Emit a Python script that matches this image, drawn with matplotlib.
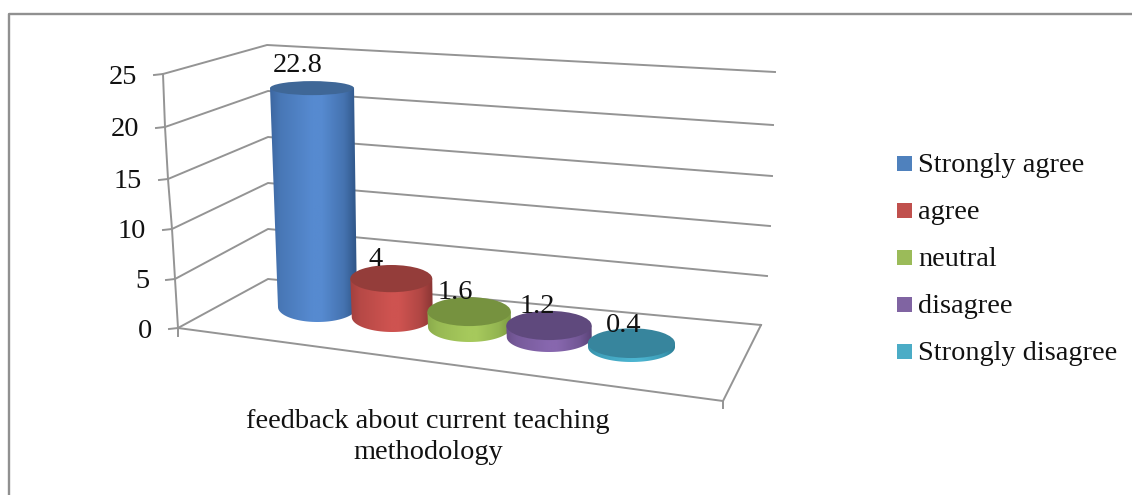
import numpy as np
import matplotlib
matplotlib.use("Agg")
import matplotlib.pyplot as plt
from matplotlib.patches import Ellipse, PathPatch, Rectangle
from matplotlib.path import Path
from matplotlib.colors import LinearSegmentedColormap, to_rgb

# Survey responses
categories = ["Strongly agree", "agree", "neutral", "disagree", "Strongly disagree"]
values = [22.8, 4, 1.6, 1.2, 0.4]
value_labels = ["22.8", "4", "1.6", "1.2", "0.4"]
axis_ticks = [0, 5, 10, 15, 20, 25]
axis_title = "feedback about current teaching\nmethodology"

# Cylinder colours: edge of body, centre of body, top cap, legend swatch
edge_cols = ["#2F5587", "#8A3634", "#7B9A42", "#5A4377", "#2A7C93"]
mid_cols = ["#568AD0", "#CE5350", "#A6C95C", "#8767AE", "#4BB4D0"]
cap_cols = ["#3F6797", "#943D3A", "#76923F", "#5F497D", "#37859D"]
swatch_cols = ["#4F81BD", "#C0504D", "#9BBB59", "#8064A2", "#4BACC6"]

GRID = "#949494"
TEXT = "#111111"
FONT = ["Liberation Serif", "DejaVu Serif"]
SIZE = 20.4
W, H = 1132, 495

# Wall corners of the 3D box, one entry per axis tick
front_x = [178, 175, 172, 168, 165, 163]
front_y = [328, 279, 229, 179, 127, 74]
back_left_x = [268, 268, 268, 268, 268, 267]
back_left_y = [279, 229, 183, 137, 91, 45]
back_right_x = [761, 767, 770, 772, 773, 775]
back_right_y = [325, 276, 226, 176, 125, 72]

# Value label offsets from the centre of each cylinder's top cap
label_dx = [-14, -16, -14, -12, -8]
label_dy = [-23, -19, -19, -19, -18]

fig = plt.figure(figsize=(W / 100, H / 100), dpi=100)
ax = fig.add_axes([0, 0, 1, 1])
ax.axis("off")

# Outer chart border, running off the right and bottom of the canvas
ax.plot([9, 9, W], [H, 14, 14], color="#909090", lw=1.7, solid_capstyle="butt", zorder=1)

# Walls, floor and tick marks
for i, tick in enumerate(axis_ticks):
    ax.plot([front_x[i], back_left_x[i], back_right_x[i]],
            [front_y[i], back_left_y[i], back_right_y[i]],
            color=GRID, lw=1.4, zorder=1)
    ax.plot([front_x[i] - 9, front_x[i]], [front_y[i] + 1, front_y[i]], color=GRID, lw=1.4, zorder=1)
    ax.text(front_x[i] - 26, front_y[i] + 3, str(tick), ha="right", va="center",
            fontsize=SIZE, family=FONT, color=TEXT, zorder=5)
ax.plot(front_x, front_y, color=GRID, lw=1.4, zorder=1)
ax.plot([178, 723, 761], [328, 401, 325], color=GRID, lw=1.4, zorder=1)
ax.plot([178, 178], [328, 336], color=GRID, lw=1.4, zorder=1)
ax.plot([723, 723], [401, 408], color=GRID, lw=1.4, zorder=1)


def blend(a, b, t):
    a, b = np.array(to_rgb(a)), np.array(to_rgb(b))
    return tuple(a + (b - a) * t)


def cylinder(i, value):
    """Draw one shaded cylinder standing on the floor at category slot i."""
    cx0 = 317.5 + 73.5 * i + 1.25 * i * i
    cy0 = 307 + 10 * i
    rx0 = 39.5 + 1.0 * i
    ry0 = 15
    # Rising along the value axis flattens the ellipse and leans slightly left
    cx1 = cx0 - 0.24 * value
    cy1 = cy0 - 9.6 * value
    rx1 = rx0 + 0.11 * value
    ry1 = ry0 - 0.35 * value

    t = np.linspace(np.pi, 0, 60)
    xs = np.r_[cx1 - rx1, cx0 + rx0 * np.cos(t), cx1 + rx1]
    ys = np.r_[cy1, cy0 + ry0 * np.sin(t), cy1]
    z = 2 + i * 0.1
    patch = PathPatch(Path(np.c_[xs, ys]), facecolor="none", edgecolor="none", zorder=z)
    ax.add_patch(patch)

    # Body shading: the left side stays lighter than the right
    edge, mid = edge_cols[i], mid_cols[i]
    stops = [(0.0, blend(edge, mid, 0.35)), (0.12, blend(edge, mid, 0.65)), (0.48, mid),
             (0.6, mid), (0.86, blend(edge, mid, 0.55)), (1.0, edge)]
    cmap = LinearSegmentedColormap.from_list("body", stops)
    left, right = min(cx0 - rx0, cx1 - rx1), max(cx0 + rx0, cx1 + rx1)
    img = ax.imshow(np.linspace(0, 1, 128)[None, :], cmap=cmap, aspect="auto",
                    extent=[left, right, cy0 + ry0, cy1], zorder=z, interpolation="bilinear")
    img.set_clip_path(patch)
    ax.add_patch(Ellipse((cx1, cy1), 2 * rx1, 2 * ry1, facecolor=cap_cols[i],
                         edgecolor="none", zorder=z + 0.05))
    return cx1, cy1


for i, val in enumerate(values):
    cx, cy = cylinder(i, val)
    ax.text(cx + label_dx[i], cy + label_dy[i], value_labels[i], ha="center", va="center",
            fontsize=SIZE, family=FONT, color=TEXT, zorder=6)

# imshow changes the limits, so the pixel frame is fixed once everything is placed
ax.set_xlim(0, W)
ax.set_ylim(H, 0)

# Legend
for i, name in enumerate(categories):
    y = 172 + 47 * i
    ax.add_patch(Rectangle((897, y - 16), 15, 15, facecolor=swatch_cols[i], edgecolor="none", zorder=3))
    ax.text(918, y, name, ha="left", va="baseline", fontsize=SIZE, family=FONT, color=TEXT, zorder=5)

ax.text(428, 437, axis_title, ha="center", va="center", fontsize=SIZE, family=FONT,
        color=TEXT, linespacing=1.3, zorder=5)

fig.savefig("out.png", dpi=100)
